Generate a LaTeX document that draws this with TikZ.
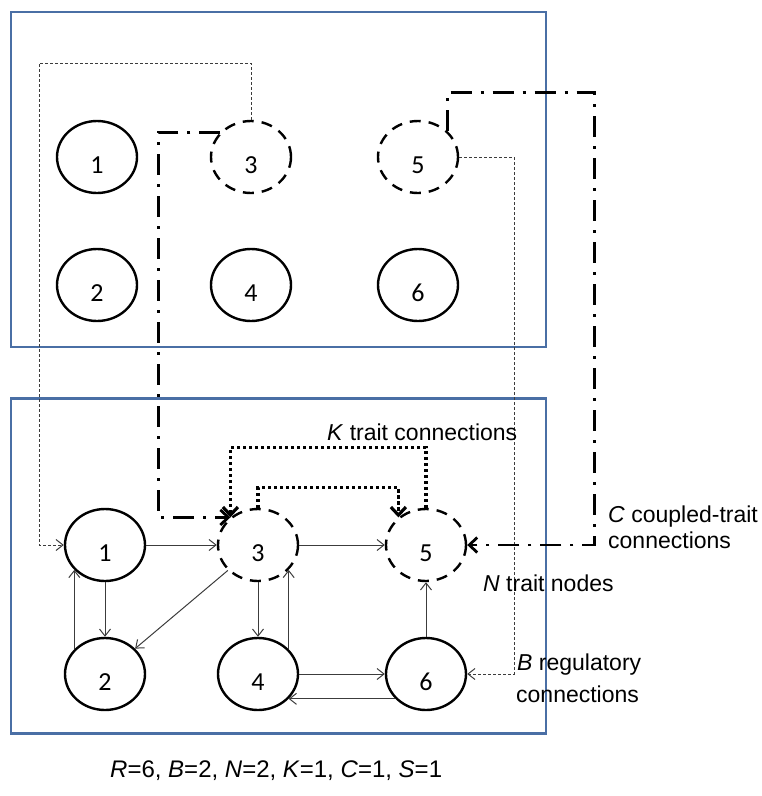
\documentclass[tikz,border=0pt]{standalone}
\usepackage{fontspec}
\setmainfont{Liberation Sans}
\newfontfamily\digitfont{Carlito}
\usetikzlibrary{arrows.meta,shapes.geometric}
\definecolor{panelblue}{HTML}{4A6FA5}
\definecolor{linkgray}{HTML}{3C3C3C}
\newcommand{\nodedigit}[1]{\raisebox{-16pt}[0pt][0pt]{#1}}
\begin{document}
\begin{tikzpicture}[x=1pt,y=-1pt,
  panel/.style={draw=panelblue, line width=2.6pt, minimum width=535pt, minimum height=335pt, inner sep=0pt},
  unit/.style={ellipse, draw=black, line width=2.4pt, minimum width=80pt, minimum height=72pt, inner sep=0pt, font=\digitfont\fontsize{26}{26}\selectfont},
  trait/.style={unit, dash pattern=on 11pt off 8pt},
  link/.style={draw=linkgray, line width=1pt, -{Straight Barb[length=7pt,width=11pt]}},
  reglink/.style={link, dash pattern=on 3pt off 2pt},
  coupled/.style={draw=black, line width=2.8pt, dash pattern=on 21pt off 9pt on 3pt off 9pt, -{Straight Barb[length=8pt,width=15pt]}},
  ktrait/.style={draw=black, line width=3.2pt, dash pattern=on 3.2pt off 2.8pt, -{Straight Barb[length=8pt,width=15pt]}},
  lbl/.style={anchor=base west, inner sep=0pt, font=\fontsize{23}{26}\selectfont}
]
\useasboundingbox (0,0) rectangle (762,796);

% panels
\node[panel] (toppanel) at (278.5,179.5) {};
\node[panel] (botpanel) at (278.5,566) {};

% top row nodes
\node[unit]  (t1) at (97,157)  {\nodedigit{1}};
\node[trait] (t3) at (251,157) {\nodedigit{3}};
\node[trait] (t5) at (418,157) {\nodedigit{5}};
\node[unit]  (t2) at (97,285)  {\nodedigit{2}};
\node[unit]  (t4) at (251,285) {\nodedigit{4}};
\node[unit]  (t6) at (418,285) {\nodedigit{6}};

% bottom nodes
\node[unit]  (b1) at (105,545) {\nodedigit{1}};
\node[trait] (b3) at (258,545) {\nodedigit{3}};
\node[trait] (b5) at (426,545) {\nodedigit{5}};
\node[unit]  (b2) at (105,674) {\nodedigit{2}};
\node[unit]  (b4) at (258,674) {\nodedigit{4}};
\node[unit]  (b6) at (426,674) {\nodedigit{6}};

% regulatory connections
\coordinate (r1) at (39,63);
\coordinate (r2) at (514,157);
\draw[reglink] (t3.north) |- (r1) |- (b1.west);
\draw[reglink] (t5.east) -- (r2) |- (b6.east);

% coupled-trait connections
\draw[coupled] (t3.141) -- ++(-62,0) |- (b3.135);
\draw[coupled] (t5.41) -- ++(0,-39) -- ++(147,0) |- (b5.east);

% K trait connections
\draw[ktrait] (b5.north) -- ++(0,-60) -| (b3.135);
\draw[ktrait] (b3.north) -- ++(0,-20) -| (b5.135);

% network links
\draw[link] (b1.east) -- (b3.west);
\draw[link] (b3.east) -- (b5.west);
\draw[link] (b1.south) -- (b2.north);
\draw[link] (b2.141) -- (b2.141 |- b1.219);
\draw[link] (b3) -- (b2);
\draw[link] (b3.south) -- (b4.north);
\draw[link] (b4.39) -- (b4.39 |- b3.321);
\draw[link] (b6.north) -- (b5.south);
\draw[link] (b4.east) -- (b6.west);
\draw[link] (b6.219) -- (b6.219 -| b4.321);

% labels
\node[lbl] (lk) at (327,440) {\textit{K} trait connections};
\node[lbl] (lc1) at (608,522) {\textit{C} coupled-trait};
\node[lbl] (lc2) at (608,548) {connections};
\node[lbl] (ln) at (483,591) {\textit{N} trait nodes};
\node[lbl] (lb1) at (517,670) {\textit{B} regulatory};
\node[lbl] (lb2) at (516,702) {connections};
\node[anchor=base west, inner sep=0pt, font=\fontsize{24}{26}\selectfont] (params) at (110,777)
  {\textit{R}=6, \textit{B}=2, \textit{N}=2, \textit{K}=1, \textit{C}=1, \textit{S}=1};
\end{tikzpicture}
\end{document}
